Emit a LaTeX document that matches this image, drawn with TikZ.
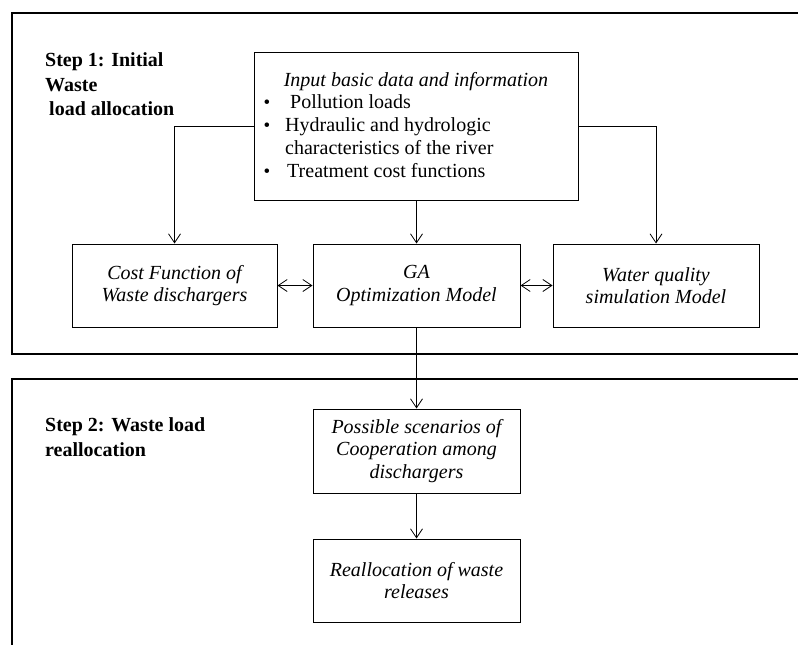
\documentclass[tikz,border=0pt]{standalone}
\usepackage{fontspec}
\setmainfont{Liberation Serif}
\usetikzlibrary{arrows.meta}
\begin{document}
\begin{tikzpicture}[x=1pt,y=-1pt,
  box/.style={draw, line width=1pt, inner sep=0pt, align=center,
    font=\itshape\fontsize{20}{22.5}\selectfont},
  frame/.style={draw, line width=2.2pt},
  arr/.style={-{Straight Barb[length=9pt,width=12pt]}, line width=0.8pt},
  darr/.style={{Straight Barb[length=9pt,width=12pt]}-{Straight Barb[length=9pt,width=12pt]}, line width=0.8pt},
  steplabel/.style={font=\bfseries\fontsize{20}{25}\selectfont, anchor=base west, inner sep=0pt},
  txt/.style={font=\fontsize{20}{22.5}\selectfont, anchor=base west, inner sep=0pt},
  ttl/.style={font=\itshape\fontsize{20}{22.5}\selectfont, anchor=base, inner sep=0pt},
  bul/.style={font=\fontsize{19}{19}\selectfont, anchor=base, inner sep=0pt}
]
\useasboundingbox (0,0) rectangle (798,645);
\clip (0,0) rectangle (798,645);
% frames
\draw[frame] (12,13) rectangle (830,354);
\draw[frame] (12,379) rectangle (830,680);

% step labels
\node[steplabel] (s1a) at (45,66) {Step 1: Initial};
\node[steplabel] (s1b) at (45,91) {Waste};
\node[steplabel] (s1c) at (49,115) {load allocation};
\node[steplabel] (s2a) at (45,431) {Step 2: Waste load};
\node[steplabel] (s2b) at (45,456) {reallocation};

% input box
\node[box, minimum width=324pt, minimum height=148pt] (inp) at (416,126) {};
\node[ttl] (t0) at (416,86) {Input basic data and information};
\node[bul] (b1) at (267,108) {\textbullet};
\node[txt] (l1) at (290,108) {Pollution loads};
\node[bul] (b2) at (267,131) {\textbullet};
\node[txt] (l2) at (285,131) {Hydraulic and hydrologic};
\node[txt] (l3) at (285,154) {characteristics of the river};
\node[bul] (b3) at (267,177) {\textbullet};
\node[txt] (l4) at (287,177) {Treatment cost functions};

% model boxes
\node[box, minimum width=205pt, minimum height=83pt] (cost) at (174.5,285.5) {Cost Function of\\Waste dischargers};
\node[box, minimum width=207pt, minimum height=83pt] (ga) at (416.5,285.5) {GA\\Optimization Model};
\node[box, minimum width=206pt, minimum height=83pt] (wq) at (656,285.5) {Water quality\\simulation Model};

% step 2 boxes
\node[box, minimum width=207pt, minimum height=84pt] (pos) at (416.5,451) {Possible scenarios of\\Cooperation among\\dischargers};
\node[box, minimum width=207pt, minimum height=83pt] (real) at (416.5,580.5) {Reallocation of waste\\releases};

% connectors
\draw[arr] (inp.west) -| (cost.north);
\draw[arr] (inp.east) -| (wq.north);
\draw[arr] (inp.south -| ga.north) -- (ga.north);
\draw[darr] (cost.east) -- (ga.west);
\draw[darr] (ga.east) -- (wq.west);
\draw[arr] (ga.south) -- (pos.north);
\draw[arr] (pos.south) -- (real.north);
\end{tikzpicture}
\end{document}
